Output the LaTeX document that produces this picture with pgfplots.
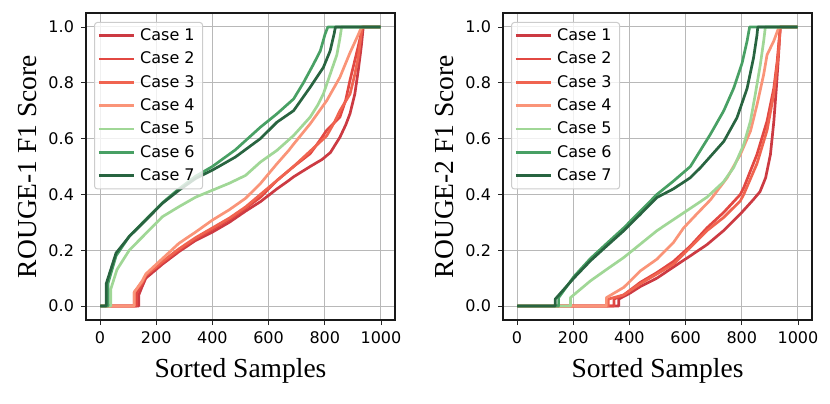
\documentclass[border=0pt]{standalone}
\usepackage{pgfplots}
\pgfplotsset{compat=1.18}
\usepackage{fontspec}
\setmainfont{Liberation Serif}
\newfontfamily\dejavu{DejaVu Sans}
\definecolor{c1}{RGB}{204,58,66}
\definecolor{c2}{RGB}{226,72,66}
\definecolor{c3}{RGB}{240,100,80}
\definecolor{c4}{RGB}{250,148,120}
\definecolor{c5}{RGB}{160,215,150}
\definecolor{c6}{RGB}{72,160,100}
\definecolor{c7}{RGB}{40,100,64}
\pgfplotsset{
  myax/.style={
    scale only axis, width=154.5pt, height=153.5pt,
    xmin=-50, xmax=1050, ymin=-0.05, ymax=1.05,
    xtick={0,200,400,600,800,1000},
    ytick={0,0.2,0.4,0.6,0.8,1.0},
    xtick pos=bottom, ytick pos=left,
    xticklabel style={/pgf/number format/.cd, 1000 sep={}},
    yticklabel style={/pgf/number format/.cd, fixed, fixed zerofill, precision=1},
    /pgf/number format/assume math mode=true,
    grid=major, major grid style={black!28, line width=0.5pt},
    tick align=outside, major tick length=2.5pt,
    tick style={black!85, line width=0.45pt},
    axis line style={line width=0.6pt, black!90},
    tick label style={font=\dejavu\fontsize{8}{9.6}\selectfont},
    label style={font=\fontsize{13.75}{16}\selectfont},
    xlabel={Sorted Samples},
    xlabel style={at={(axis description cs:0.5,0)}, anchor=base, yshift=-28.85pt},
    ylabel style={at={(axis description cs:-0.188,0.5)}, anchor=center},
    legend cell align=left,
    legend image code/.code={\draw[#1, line width=1.35pt] (0pt,0pt) -- (17.5pt,0pt);},
    legend style={at={(axis description cs:0.026,0.971)}, anchor=north west,
      draw=black!20, line width=0.5pt, rounded corners=1.5pt, fill=white, fill opacity=0.8, text opacity=1,
      font=\dejavu\fontsize{8}{9.6}\selectfont,
      inner xsep=1.5pt, inner ysep=0.8pt, row sep=0pt,
      nodes={inner ysep=0pt, inner xsep=2.5pt, text height=8.2pt, text depth=3.47pt}},
    every axis plot/.append style={line width=1.35pt, line join=round, mark=none},
  }
}
\begin{document}
\begin{tikzpicture}
\useasboundingbox (0,0) rectangle (415pt,201.5pt);
\begin{axis}[myax, at={(43pt,41.5pt)}, anchor=south west, ylabel={ROUGE-1 F1 Score}]
\addplot[c1] coordinates {(0,0)(138,0)(138,0.04)(150,0.07)(163,0.10)(222,0.15)(281,0.195)(340,0.235)(400,0.265)(460,0.30)(518,0.34)(571,0.374)(630,0.42)(672,0.45)(689,0.463)(748,0.50)(790,0.525)(820,0.55)(854,0.605)(875,0.65)(890,0.69)(907,0.76)(919,0.843)(930,0.93)(937,1.0)(999,1.0)};
\addplot[c2] coordinates {(0,0)(130,0)(130,0.045)(150,0.08)(163,0.11)(222,0.155)(281,0.20)(340,0.24)(400,0.275)(460,0.31)(518,0.35)(571,0.39)(630,0.45)(689,0.50)(748,0.546)(780,0.59)(807,0.63)(854,0.677)(875,0.74)(890,0.81)(907,0.88)(919,0.93)(935,1.0)(999,1.0)};
\addplot[c3] coordinates {(0,0)(122,0)(122,0.05)(150,0.085)(163,0.11)(222,0.16)(281,0.205)(340,0.245)(400,0.28)(460,0.315)(518,0.355)(571,0.40)(630,0.45)(689,0.50)(748,0.555)(807,0.61)(835,0.66)(854,0.70)(890,0.76)(907,0.83)(919,0.89)(933,1.0)(999,1.0)};
\addplot[c4] coordinates {(0,0)(122,0)(122,0.05)(150,0.09)(163,0.115)(222,0.17)(281,0.225)(340,0.265)(400,0.308)(460,0.345)(518,0.386)(571,0.439)(630,0.51)(672,0.558)(689,0.58)(748,0.653)(807,0.736)(854,0.82)(890,0.908)(920,0.974)(931,1.0)(999,1.0)};
\addplot[c5] coordinates {(0,0)(38,0)(38,0.06)(60,0.13)(104,0.20)(163,0.26)(222,0.32)(281,0.356)(340,0.39)(400,0.415)(460,0.44)(518,0.468)(571,0.516)(630,0.558)(689,0.611)(748,0.677)(775,0.72)(795,0.76)(819,0.83)(843,0.90)(854,0.96)(860,1.0)(999,1.0)};
\addplot[c6] coordinates {(0,0)(28,0)(28,0.08)(57,0.18)(104,0.25)(163,0.31)(222,0.37)(281,0.42)(340,0.465)(400,0.50)(482,0.56)(571,0.641)(630,0.689)(689,0.742)(724,0.80)(760,0.867)(784,0.914)(801,0.974)(811,1.0)(999,1.0)};
\addplot[c7] coordinates {(0,0)(22,0)(22,0.08)(57,0.19)(104,0.249)(163,0.308)(222,0.368)(281,0.415)(340,0.457)(400,0.487)(482,0.534)(571,0.60)(630,0.659)(689,0.70)(748,0.784)(795,0.855)(819,0.914)(833,0.974)(838,1.0)(999,1.0)};
\legend{Case 1,Case 2,Case 3,Case 4,Case 5,Case 6,Case 7}
\end{axis}
\begin{axis}[myax, at={(251.5pt,41.5pt)}, anchor=south west, ylabel={ROUGE-2 F1 Score}]
\addplot[c1] coordinates {(0,0)(362,0)(362,0.025)(400,0.045)(439,0.07)(498,0.10)(557,0.14)(617,0.18)(676,0.22)(735,0.27)(795,0.33)(840,0.38)(865,0.41)(885,0.46)(902,0.543)(914,0.66)(923,0.78)(931,0.90)(937,1.0)(999,1.0)};
\addplot[c2] coordinates {(0,0)(345,0)(345,0.025)(380,0.04)(439,0.085)(498,0.12)(557,0.16)(617,0.215)(676,0.28)(735,0.335)(795,0.40)(807,0.424)(854,0.543)(890,0.663)(914,0.78)(926,0.877)(937,1.0)(999,1.0)};
\addplot[c3] coordinates {(0,0)(325,0)(325,0.025)(380,0.04)(439,0.08)(498,0.115)(557,0.15)(617,0.21)(676,0.27)(735,0.317)(795,0.377)(807,0.40)(854,0.51)(890,0.63)(914,0.76)(930,0.9)(937,1.0)(999,1.0)};
\addplot[c4] coordinates {(0,0)(318,0)(318,0.03)(380,0.067)(439,0.126)(498,0.168)(557,0.228)(593,0.28)(640,0.33)(688,0.38)(748,0.46)(795,0.543)(831,0.627)(854,0.72)(878,0.83)(890,0.90)(914,0.95)(931,0.996)(935,1.0)(999,1.0)};
\addplot[c5] coordinates {(0,0)(190,0)(190,0.03)(261,0.09)(320,0.132)(380,0.174)(439,0.222)(498,0.27)(557,0.31)(617,0.35)(676,0.39)(735,0.445)(771,0.496)(807,0.579)(831,0.663)(848,0.758)(866,0.865)(878,0.95)(884,1.0)(999,1.0)};
\addplot[c6] coordinates {(0,0)(148,0)(148,0.03)(202,0.105)(261,0.17)(320,0.225)(380,0.28)(439,0.34)(498,0.40)(557,0.448)(617,0.50)(688,0.615)(736,0.70)(771,0.78)(801,0.87)(819,0.95)(828,1.0)(999,1.0)};
\addplot[c7] coordinates {(0,0)(136,0)(136,0.025)(202,0.10)(261,0.162)(320,0.216)(380,0.27)(439,0.329)(498,0.389)(557,0.42)(617,0.46)(653,0.496)(736,0.59)(783,0.675)(819,0.78)(842,0.89)(854,0.97)(857,1.0)(999,1.0)};
\legend{Case 1,Case 2,Case 3,Case 4,Case 5,Case 6,Case 7}
\end{axis}
\end{tikzpicture}
\end{document}
